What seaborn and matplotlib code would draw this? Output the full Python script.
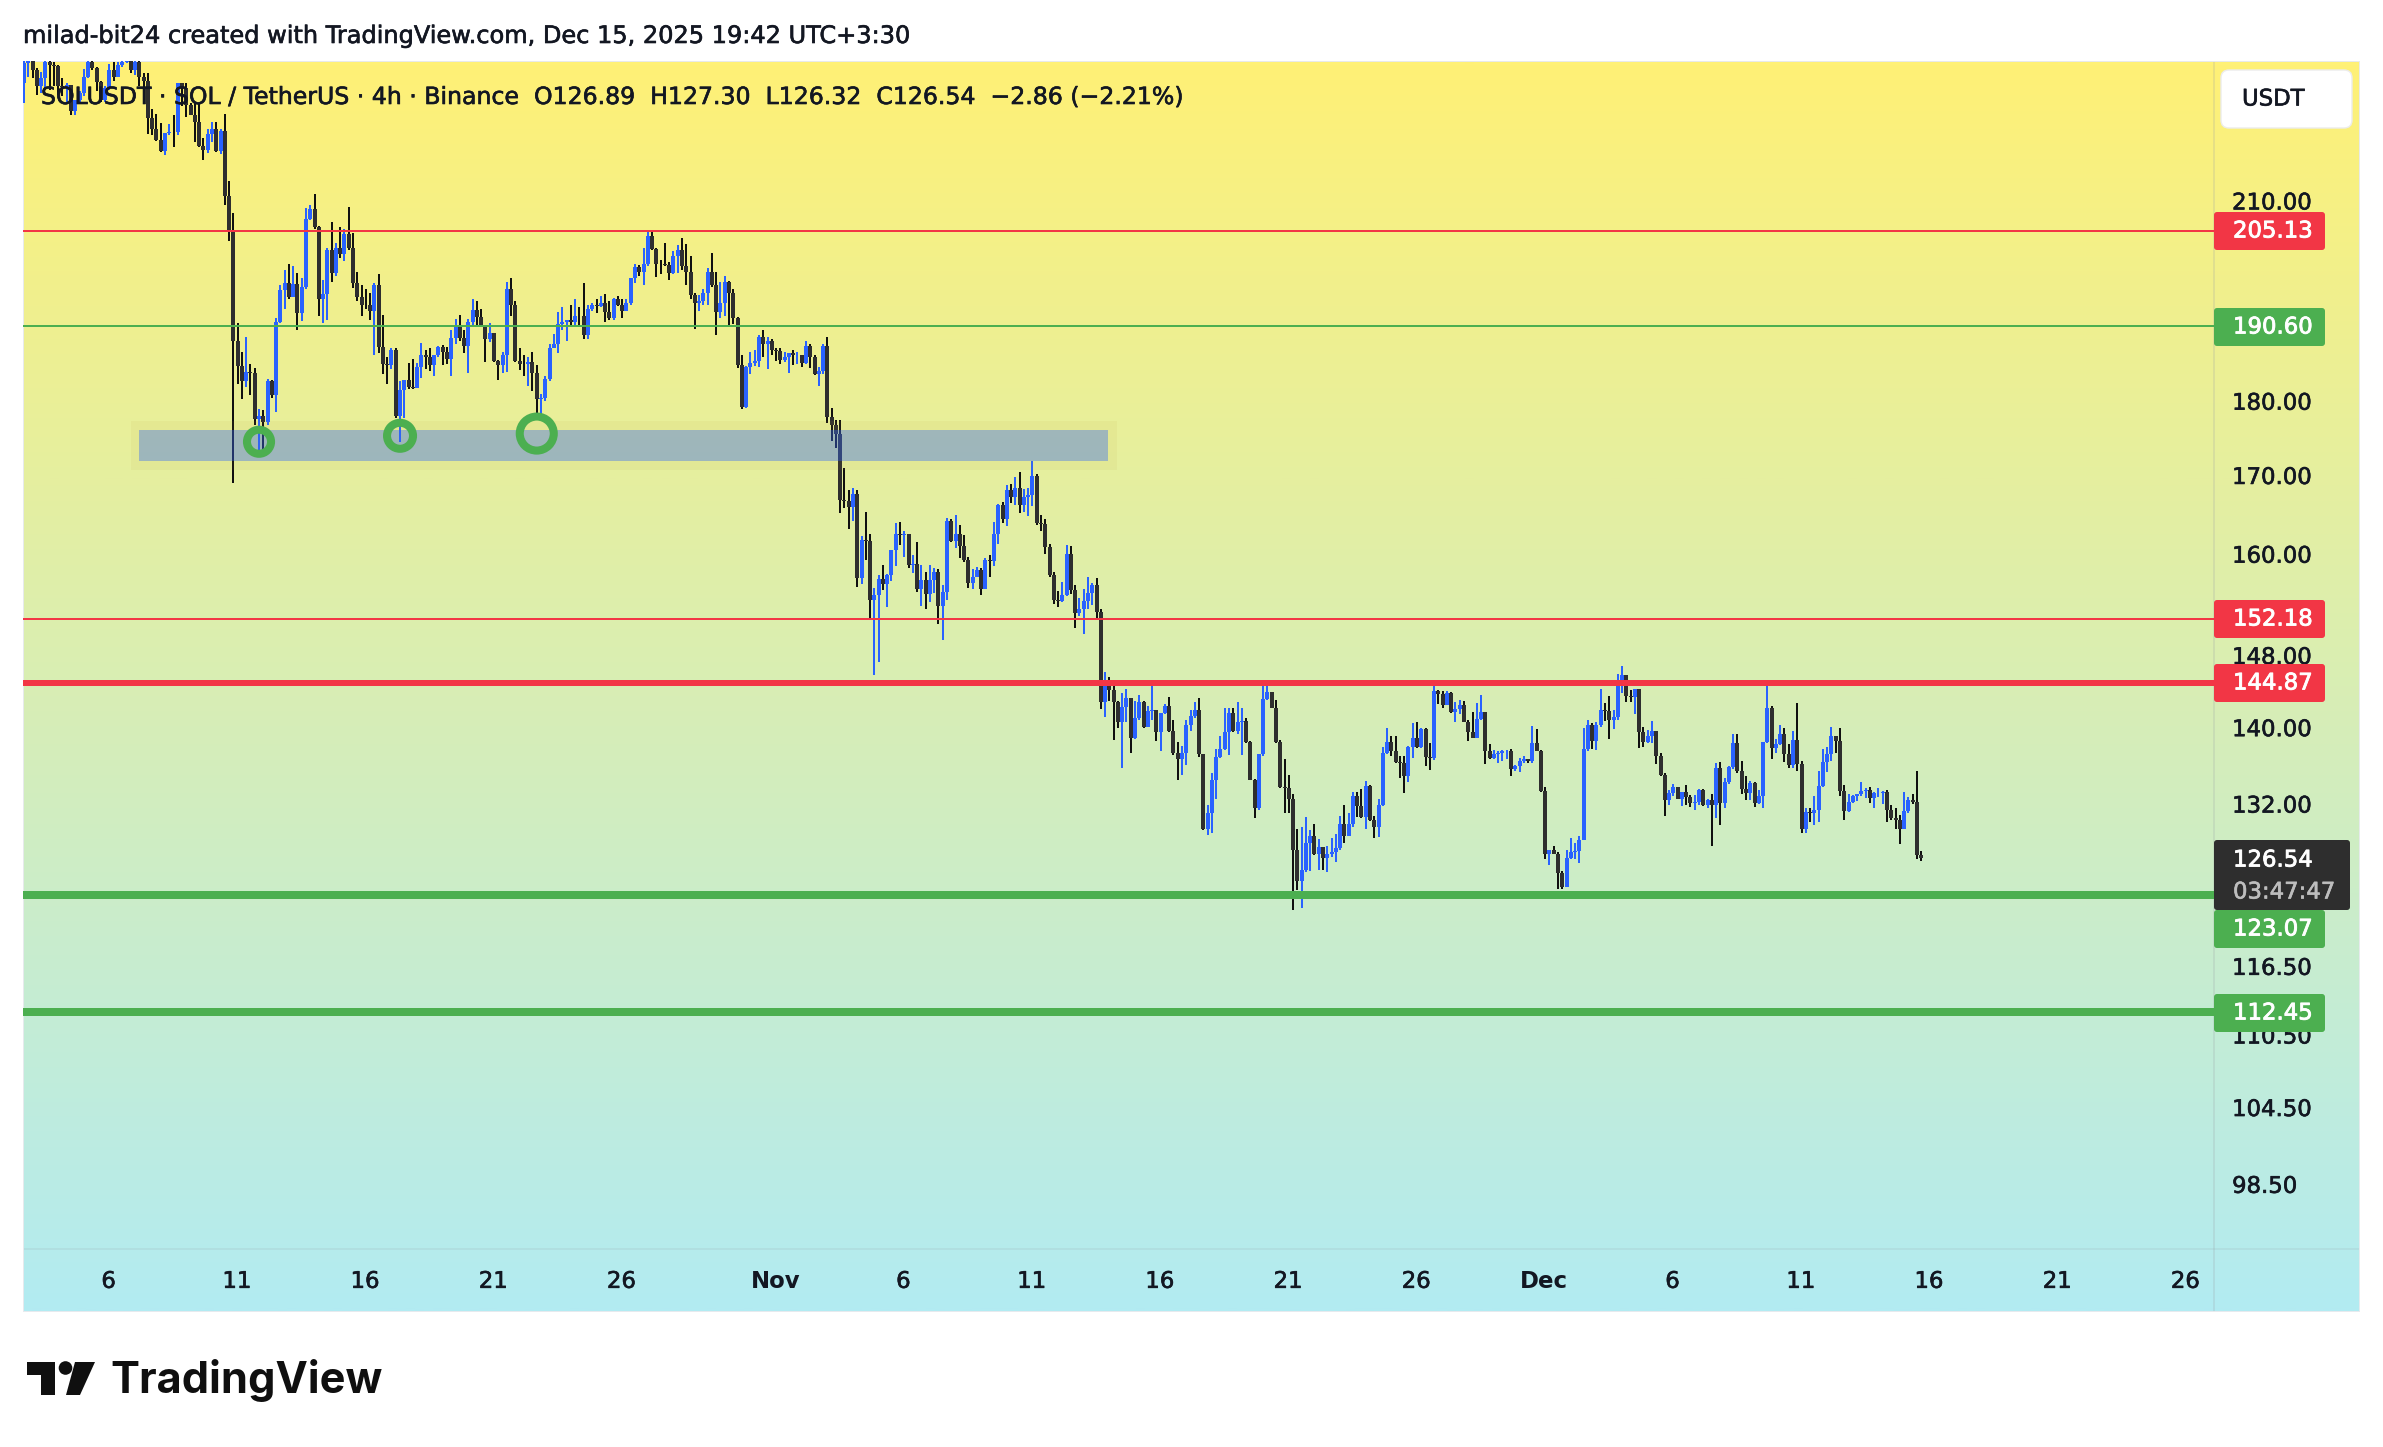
import numpy as np
import pandas as pd
import matplotlib
matplotlib.use("Agg")
import matplotlib.pyplot as plt
import matplotlib.patheffects as pe
from matplotlib.patches import FancyBboxPatch, Rectangle, Polygon, Circle
import seaborn as sns

first_open = 229.9
close_a = [233.4,234.6,232.2,229.3,230.7,233.7,233.1,232.9,229.3,229.1,
229.6,224.9,226.8,228.1,231.0,233.7,232.5,230.1,226.8,229.0,
232.2,231.0,233.1,233.7,234.3,232.2,233.7,231.0,230.3,223.8,
221.8,220.0,218.2,221.2,221.4,221.3,229.8,229.0,226.1,224.3,
223.0,219.0,218.4,221.0,221.8,218.2,221.6,210.8,205.0,188.4,
184.9,182.8,184.0,183.9,177.5,177.9,177.1,182.7,180.8,191.2,
196.0,197.0,194.9,196.9,192.5,196.5,207.0,208.6,205.7,194.6,
195.4,202.1,198.6,202.4,201.5,204.7,202.4,197.0,194.9,193.8,
193.7,192.9,196.8,187.6,185.1,185.0,187.1,177.9,181.5,182.9,
181.9,181.8,184.8,186.4,186.2,185.0,186.4,187.6,186.9,185.8]
high_a = [235.8,235.8,234.6,232.5,231.9,234.6,234.0,233.7,233.1,230.7,
229.9,229.3,226.9,228.4,232.4,234.3,234.0,232.8,230.3,229.3,
233.3,233.7,233.7,234.6,234.9,234.6,234.3,234.0,231.6,231.6,
225.3,224.4,222.9,221.2,222.7,224.2,229.8,229.8,229.8,226.4,
226.4,226.4,220.3,221.8,223.0,223.0,221.8,224.5,213.2,208.0,
191.1,186.9,189.0,185.1,184.6,178.9,178.7,183.0,182.9,191.8,
196.8,199.1,200.0,199.6,198.6,197.8,208.8,209.3,211.1,205.9,
197.6,202.5,206.5,203.3,205.7,205.4,208.9,204.8,198.7,196.7,
196.2,195.6,197.1,198.5,192.3,186.1,187.5,187.5,182.8,182.9,
185.3,185.9,185.3,188.2,187.2,187.4,186.5,187.8,187.9,187.6]
low_a = [226.4,231.0,230.7,227.8,228.1,228.7,228.7,229.3,227.8,227.5,
226.4,224.3,224.2,226.6,227.6,230.7,232.2,228.4,226.6,226.6,
228.7,230.3,231.2,232.8,233.4,231.6,231.3,229.3,228.4,221.0,
220.8,219.8,218.0,217.4,220.8,218.9,220.8,225.8,224.0,224.2,
219.6,218.8,216.7,217.8,219.6,217.9,217.6,209.2,203.5,169.0,
182.3,180.2,181.9,180.8,176.6,173.0,173.0,176.7,180.4,178.4,
191.1,193.2,194.6,194.9,190.0,191.4,196.2,206.8,205.4,192.1,
191.1,191.6,197.2,198.2,200.9,200.5,202.1,196.3,194.4,192.1,
193.1,191.5,186.4,186.7,183.8,182.3,184.5,177.6,174.3,177.6,
181.6,181.6,181.8,183.2,184.5,184.1,183.4,186.1,185.0,185.2]

close_b = [188.9,190.8,188.9,187.8,191.2,193.0,192.0,190.7,188.7,189.7,
185.6,185.0,186.4,196.2,193.8,185.6,185.2,185.1,185.4,183.9,
180.2,180.4,183.1,187.5,188.0,190.9,191.2,191.5,191.3,192.2,
192.1,189.4,193.1,193.7,193.6,194.0,192.7,191.8,194.7,193.7,
192.9,194.0,197.8,199.5,198.8,200.0,204.3,202.3,200.0,199.9,
199.8,198.6,201.2,202.2,199.6,198.8,195.2,194.0,194.4,195.6,
198.8,196.7,192.7,194.0,197.2,195.6,191.8,185.0,179.1,184.7,
185.3,185.6,189.0,188.0,188.4,187.1,187.0,185.7,186.2,186.7,
186.4,186.5,185.3,187.8,186.1,183.7,184.1,187.8,177.7,176.6,
175.5,166.8,166.6,165.8,167.5,157.0,161.7,161.6,154.4,155.0]
high_b = [190.1,191.7,192.3,190.1,191.7,194.7,194.4,193.1,190.7,191.1,
189.7,185.7,186.9,197.2,197.8,194.3,187.5,186.4,186.1,186.9,
185.0,180.9,183.5,188.1,189.5,192.7,193.5,191.5,193.8,194.7,
193.5,197.0,193.7,194.1,194.7,195.1,195.4,194.4,194.8,195.1,
194.6,194.6,197.9,200.0,199.8,202.5,205.0,205.0,202.4,200.6,
203.2,200.3,202.0,202.9,204.0,203.1,201.2,195.5,195.2,196.1,
199.3,201.7,198.8,197.2,198.2,197.3,196.2,192.0,186.4,184.9,
186.9,187.1,189.3,190.1,189.1,188.8,187.5,187.5,186.9,186.7,
187.1,186.9,186.4,188.4,188.0,186.5,184.7,188.1,189.1,179.0,
177.3,177.3,170.9,168.0,168.3,168.0,162.2,165.2,162.4,155.8]
low_b = [183.4,188.1,188.4,186.8,183.9,190.7,190.7,190.6,185.5,188.3,
185.4,182.9,183.9,184.0,192.2,185.4,184.3,183.5,182.1,181.4,
177.4,177.2,179.9,182.8,187.4,186.7,190.1,188.4,190.8,190.8,
190.7,188.8,188.8,192.9,192.5,193.4,191.2,191.6,191.5,193.6,
191.9,192.8,193.7,197.0,198.2,196.8,199.6,202.1,198.0,198.4,
199.7,197.5,198.5,198.6,199.1,196.7,194.7,190.2,192.8,193.8,
193.8,196.4,189.4,191.9,192.2,190.7,191.0,184.6,178.8,179.0,
183.7,184.9,184.7,186.1,184.5,186.5,185.6,185.2,185.4,183.9,
185.0,185.2,184.7,185.2,184.6,183.6,182.1,183.7,177.0,174.5,
173.6,165.1,165.7,163.1,164.1,155.9,156.3,159.2,152.3,145.7]

close_c = [156.9,156.3,157.4,160.4,162.4,162.3,162.5,158.6,158.7,155.7,
156.8,155.1,156.8,157.8,153.7,155.4,164.1,161.6,162.4,160.9,
159.2,156.4,157.2,158.0,155.7,159.2,159.1,162.4,166.1,164.3,
168.0,167.1,168.3,166.1,167.1,167.4,169.9,163.8,163.7,160.8,
157.4,154.4,154.3,155.0,159.9,155.6,152.9,153.3,154.3,155.2,
156.2,153.0,142.7,144.5,144.1,142.7,140.6,142.2,143.2,138.8,
141.0,142.7,140.0,141.7,141.9,139.5,141.5,142.3,139.6,137.2,136.6,
137.2,140.2,141.2,141.9,137.1,129.4,131.0,134.4,136.8,137.7,
139.5,141.5,139.6,140.6,140.7,138.4,134.4,131.5,137.1,143.1,
143.8,142.1,138.4,133.7,133.6,132.5,127.4,124.4,125.4,128.1]
high_c = [157.4,158.6,157.5,160.4,163.8,164.0,162.8,162.5,159.8,161.5,
158.6,157.8,158.6,158.2,158.1,156.2,164.5,164.3,164.8,163.6,
162.3,159.6,158.1,158.4,158.2,159.5,159.8,164.0,166.2,166.5,
168.7,168.8,169.7,170.4,168.2,168.3,171.8,170.1,164.9,164.3,
161.2,157.8,155.5,156.6,161.1,161.0,156.2,154.6,155.7,157.1,
156.4,157.0,153.3,146.1,145.5,144.5,142.9,143.7,144.2,143.0,
142.9,143.5,142.9,142.3,144.5,141.9,141.5,142.5,143.3,140.8,138.4,
138.0,140.8,141.9,142.7,143.2,137.1,131.9,135.1,137.7,139.1,
142.1,142.1,142.1,142.7,142.1,141.0,138.5,134.5,137.1,144.5,
144.5,143.6,143.0,138.6,136.6,134.9,133.0,129.4,129.6,130.6]
low_c = [147.2,155.6,153.6,156.7,158.5,161.1,159.6,158.2,157.6,155.4,
153.7,153.3,154.2,155.2,151.6,149.7,154.4,161.5,160.7,159.5,
159.0,155.8,155.7,157.1,155.0,155.7,157.2,158.5,161.2,163.8,
163.4,166.4,166.1,165.1,165.2,164.7,166.0,163.6,162.8,159.9,
157.2,153.9,153.6,154.2,154.9,155.1,151.1,152.5,150.4,153.3,
153.8,152.3,142.0,141.1,142.9,138.6,139.9,135.7,140.6,137.2,
138.7,140.8,139.9,140.0,140.8,138.5,137.4,141.4,139.5,137.0,134.4,
134.9,136.0,139.6,141.0,136.8,129.3,128.8,129.0,132.5,136.7,
137.6,137.0,139.5,139.3,137.0,138.3,134.4,130.5,131.3,136.9,
143.0,142.1,138.3,133.6,131.0,131.0,121.6,123.5,121.8,125.2]

close_d = [128.7,127.0,127.7,126.6,127.0,127.2,127.6,129.9,128.7,129.9,
132.8,131.8,130.6,133.8,130.3,129.6,131.9,137.2,138.4,137.5,
136.3,136.2,134.8,137.9,138.8,137.9,139.8,136.8,136.7,144.0,
143.6,142.4,143.7,141.6,142.0,142.4,140.6,139.5,138.8,140.9,
141.6,137.4,136.7,137.1,137.2,137.4,137.5,135.6,135.9,136.4,
136.6,136.4,138.3,137.4,133.3,127.0,127.4,127.0,125.1,123.8,
126.6,127.2,127.3,128.3,137.7,140.2,138.5,140.2,141.9,141.7,
140.8,141.1,144.5,145.7,143.4,143.3,144.2,139.5,138.4,139.0,
139.6,136.9,134.9,132.4,133.1,133.7,132.5,133.2,132.7,132.1,
132.2,133.4,131.9,132.4,131.9,135.7,132.1,134.2,135.8,138.3]
high_d = [129.3,129.9,128.4,127.7,127.8,128.5,128.9,130.7,131.9,131.0,
133.2,133.2,133.5,134.3,133.9,130.7,132.5,137.9,139.9,139.1,
139.1,136.9,136.9,138.0,140.5,140.6,139.9,139.9,138.3,144.5,
144.1,144.0,143.9,143.8,142.7,143.0,142.8,140.8,141.6,142.6,
143.5,141.6,138.2,137.6,137.4,137.6,137.6,137.7,136.0,136.7,
136.9,136.6,140.1,139.8,137.6,133.7,127.4,127.8,127.2,125.3,
127.4,128.5,128.1,128.7,139.9,140.8,140.4,140.6,144.2,142.6,
143.4,141.9,145.9,146.8,145.7,144.1,144.2,143.8,140.0,139.7,
140.7,139.6,137.2,135.1,133.4,134.0,133.7,133.2,133.9,132.9,
132.9,133.5,133.5,132.5,133.0,136.2,136.3,134.6,135.9,139.3]
low_d = [125.3,126.9,125.4,125.4,125.2,126.7,126.2,127.4,128.1,128.7,
129.6,130.6,130.5,129.4,130.2,128.5,128.6,131.8,137.1,136.9,
136.2,134.6,133.1,134.2,136.7,137.8,137.8,135.9,135.5,136.5,
142.5,142.1,142.4,141.5,140.6,141.4,140.6,138.5,138.8,138.8,
140.8,136.1,136.6,136.6,136.2,136.4,136.6,134.8,135.3,135.2,
136.2,136.2,136.2,137.4,133.2,126.5,125.9,127.0,123.6,123.6,
123.8,126.5,126.5,126.1,128.3,137.4,137.7,137.6,140.0,140.7,
138.7,139.8,140.8,143.7,142.7,142.7,141.4,137.8,137.9,138.3,
138.3,136.1,134.8,130.7,131.9,132.8,132.5,131.8,131.9,131.7,
131.3,131.9,131.8,131.5,127.8,130.5,129.8,131.5,134.0,135.6]

close_e = [135.3,133.5,133.1,134.1,132.1,132.8,138.4,142.1,137.8,138.2,
139.3,137.1,136.0,138.6,136.1,129.4,131.1,131.0,131.3,133.8,
136.3,137.1,139.1,138.5,133.3,131.2,132.2,132.8,133.0,133.3,
133.4,132.6,133.1,133.1,133.2,131.3,130.5,130.3,129.4,131.2,
132.4,132.2,126.89,126.54]
high_e = [139.3,136.4,134.8,134.3,134.2,133.4,138.4,144.5,142.3,138.7,
140.2,139.9,138.2,139.6,142.6,136.4,131.6,131.5,132.8,135.3,
137.7,137.9,140.0,139.1,139.9,133.9,133.0,132.9,133.0,134.2,
133.6,133.7,133.2,133.6,133.3,133.4,131.9,131.6,130.8,133.2,
132.7,133.0,135.4,127.30]
low_e = [135.1,133.0,132.4,132.4,131.7,132.0,131.6,138.3,136.6,137.2,
138.1,136.3,135.7,135.7,135.4,129.0,129.0,130.1,129.8,130.1,
133.7,135.2,136.4,137.2,132.8,130.3,131.1,132.1,132.3,132.8,
132.6,132.1,131.6,132.7,132.0,130.1,130.3,129.4,128.0,129.4,
131.0,132.0,126.5,126.32]

level_prices = [205.13, 190.60, 152.18, 144.87, 123.07, 112.45]
level_colors = ["#F23645", "#4CAF50", "#F23645", "#F23645", "#4CAF50", "#4CAF50"]
level_widths = [2, 2, 2, 6, 8, 8]
price_ticks = [210, 180, 170, 160, 148, 140, 132, 116.5, 110.5, 104.5, 98.5]
date_ticks = ["2025-10-06","2025-10-11","2025-10-16","2025-10-21","2025-10-26","2025-11-01",
              "2025-11-06","2025-11-11","2025-11-16","2025-11-21","2025-11-26","2025-12-01",
              "2025-12-06","2025-12-11","2025-12-16","2025-12-21","2025-12-26"]
date_labels = ["6","11","16","21","26","Nov","6","11","16","21","26","Dec","6","11","16","21","26"]
start_time = pd.Timestamp("2025-10-02 16:48")
zone_prices = (171.8, 176.0)
zone_halo = (170.7, 177.2)
zone_candles = (26.9, 253.8)
halo_candles = (25.0, 255.7)
touch_candles = [55, 88, 120]
touch_prices = [174.4, 175.2, 175.5]
touch_sizes = [300, 350, 600]

W, H = 2383, 1447
PX_PER_CANDLE = 4.273
FIRST_X = 24

sns.set_theme(style="white")
plt.rcParams["font.family"] = ["DejaVu Sans"]
TXT = "#131722"
FS = 16.4

close = np.array(close_a + close_b + close_c + close_d + close_e)
high = np.array(high_a + high_b + high_c + high_d + high_e)
low = np.array(low_a + low_b + low_c + low_d + low_e)
n = min(len(close), len(high), len(low))
close, high, low = close[:n], high[:n], low[:n]
opens = np.r_[first_open, close[:-1]]
high = np.maximum.reduce([high, opens, close])
low = np.minimum.reduce([low, opens, close])
direction = np.where(close >= opens, "up", "down")
ids = np.arange(n)

wicks = pd.DataFrame({"x": np.r_[ids, ids], "p": np.r_[low, high],
                      "c": np.r_[ids, ids], "d": np.r_[direction, direction]})
bodies = pd.DataFrame({"x": np.r_[ids, ids], "p": np.r_[opens, close],
                       "c": np.r_[ids, ids], "d": np.r_[direction, direction]})

fig = plt.figure(figsize=(W / 100, H / 100), dpi=100, facecolor="white")

def rect(l, t, r, b):
    return [l / W, 1 - b / H, (r - l) / W, (b - t) / H]

def heavy(artist, color, width=0.45):
    artist.set_path_effects([pe.withStroke(linewidth=width, foreground=color)])

# gradient backdrop spanning plot, price scale and time scale
bg = fig.add_axes(rect(23, 61, 2360, 1312), zorder=0)
grad = np.array(sns.blend_palette(["#FFF176", "#B2EBF2"], 512))[:, None, :]
bg.imshow(grad, aspect="auto", extent=(0, 1, 0, 1), origin="upper")
bg.set_axis_off()
bg.add_line(plt.Line2D([(2214 - 23) / 2337] * 2, [0, 1], color="#9AA0A6", alpha=0.25, lw=1.2))
bg.add_line(plt.Line2D([0, 1], [(1312 - 1249) / 1251] * 2, color="#9AA0A6", alpha=0.18, lw=1.2))
for sp_x in (0, 1):
    bg.add_line(plt.Line2D([sp_x, sp_x], [0, 1], color="#E8EAEE", lw=1.4))
for sp_y in (0, 1):
    bg.add_line(plt.Line2D([0, 1], [sp_y, sp_y], color="#E8EAEE", lw=1.4))

ax = fig.add_axes(rect(23, 61, 2214, 1249), zorder=1)
ax.patch.set_alpha(0)
ax.set_yscale("log")

sns.lineplot(data=wicks, x="x", y="p", units="c", estimator=None, hue="d", sort=False,
             palette={"up": "#2962FF", "down": "#101010"}, linewidth=1.44, antialiased=False,
             legend=False, ax=ax, solid_capstyle="butt", zorder=2)
sns.lineplot(data=bodies, x="x", y="p", units="c", estimator=None, hue="d", sort=False,
             palette={"up": "#2962FF", "down": "#2E2E2E"}, linewidth=2.88, antialiased=False,
             legend=False, ax=ax, solid_capstyle="butt", zorder=3)

ax.set_xlim((23 - FIRST_X) / PX_PER_CANDLE, (2214 - FIRST_X) / PX_PER_CANDLE)
ax.set_ylim(93.68, 233.8)

ax.add_patch(Rectangle((halo_candles[0], zone_halo[0]), halo_candles[1] - halo_candles[0],
                       zone_halo[1] - zone_halo[0], fc="#B89A3C", alpha=0.08, lw=0, zorder=4))
ax.add_patch(Rectangle((zone_candles[0], zone_prices[0]), zone_candles[1] - zone_candles[0],
                       zone_prices[1] - zone_prices[0], fc="#2962FF", alpha=0.37, lw=0, zorder=5))

for p, col, w in zip(level_prices, level_colors, level_widths):
    ax.axhline(p, color=col, lw=w * 0.72, zorder=6, solid_capstyle="butt")

for cx, cp, cs in zip(touch_candles, touch_prices, touch_sizes):
    sns.scatterplot(x=[cx], y=[cp], s=cs, facecolor="none", edgecolor="#4CAF50",
                    linewidth=5.8, ax=ax, zorder=7, legend=False)

ax.set_xlabel("")
ax.set_ylabel("")
for s in ax.spines.values():
    s.set_visible(False)
ax.yaxis.tick_right()
ax.minorticks_off()
ax.set_yticks(price_ticks)
ax.set_yticklabels([f"{v:.2f}" for v in price_ticks], fontsize=FS, color=TXT)
ax.yaxis.set_minor_locator(matplotlib.ticker.NullLocator())
ax.tick_params(axis="y", length=0, pad=13)
tick_pos = [(pd.Timestamp(d) - start_time) / pd.Timedelta(hours=4) for d in date_ticks]
ax.set_xticks(tick_pos)
ax.set_xticklabels(date_labels, fontsize=FS, color=TXT)
ax.tick_params(axis="x", length=0, pad=15)
for lab in ax.get_xticklabels():
    if lab.get_text() in ("Nov", "Dec"):
        lab.set_fontweight("bold")
    else:
        heavy(lab, TXT)
for lab in ax.get_yticklabels():
    heavy(lab, TXT)

ov = fig.add_axes([0, 0, 1, 1], zorder=3)
ov.set_xlim(0, W)
ov.set_ylim(H, 0)
ov.patch.set_alpha(0)
ov.set_axis_off()

heavy(ov.text(23, 36, "milad-bit24 created with TradingView.com, Dec 15, 2025 19:42 UTC+3:30",
              fontsize=17.3, color=TXT, va="center", ha="left"), TXT)
heavy(ov.text(41, 97, "SOLUSDT · SOL / TetherUS · 4h · Binance  O126.89  H127.30  L126.32  C126.54  −2.86 (−2.21%)",
              fontsize=17.0, color=TXT, va="center", ha="left"), TXT)

def tag(top, bottom, right, color, label, y_text):
    ov.add_patch(FancyBboxPatch((2214, top), right - 2214, bottom - top,
                                boxstyle="round,pad=0,rounding_size=3", fc=color, ec="none"))
    heavy(ov.text(2233, y_text, label, fontsize=FS, color="white", va="center", ha="left"), "white", 0.6)

tag(212, 250, 2325, "#F23645", "205.13", 231)
tag(308, 346, 2325, "#4CAF50", "190.60", 327)
tag(600, 638, 2325, "#F23645", "152.18", 619)
tag(664, 702, 2325, "#F23645", "144.87", 683)
tag(910, 948, 2325, "#4CAF50", "123.07", 929)
tag(994, 1032, 2325, "#4CAF50", "112.45", 1013)
ov.add_patch(FancyBboxPatch((2214, 840), 2350 - 2214, 70,
                            boxstyle="round,pad=0,rounding_size=3", fc="#2E2E2E", ec="none"))
heavy(ov.text(2233, 860, "126.54", fontsize=FS, color="white", va="center", ha="left"), "white", 0.6)
heavy(ov.text(2233, 892, "03:47:47", fontsize=FS, color="#BDBDBD", va="center", ha="left"), "#BDBDBD")

ov.add_patch(FancyBboxPatch((2221, 70), 131, 58, boxstyle="round,pad=0,rounding_size=8",
                            fc="white", ec="#ECECEC", lw=1))
heavy(ov.text(2242, 99, "USDT", fontsize=FS, color=TXT, va="center", ha="left"), TXT)

# TradingView logo
LOGO = "#0F0F0F"
ov.add_patch(Polygon([(27, 1362), (54.5, 1362), (54.5, 1395), (41, 1395), (41, 1375), (27, 1375)],
                     closed=True, fc=LOGO, ec="none"))
ov.add_patch(Circle((65.5, 1368), 6.8, fc=LOGO, ec="none"))
ov.add_patch(Polygon([(75, 1362), (95, 1362), (80, 1395), (66, 1395)], closed=True, fc=LOGO, ec="none"))
ov.text(110, 1376, "TradingView", fontsize=31.2, family="Inter", fontweight="bold",
        color=LOGO, va="center_baseline", ha="left")

fig.savefig("out.png", dpi=100, facecolor="white")
